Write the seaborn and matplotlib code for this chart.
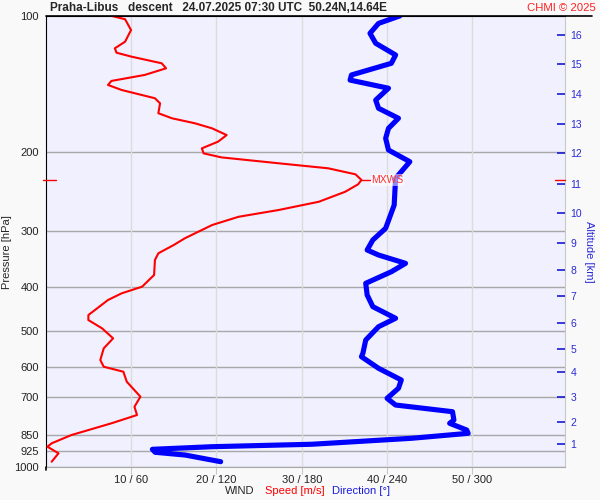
import numpy as np
import pandas as pd
import matplotlib
matplotlib.use("Agg")
import matplotlib.pyplot as plt
from matplotlib.lines import Line2D
from matplotlib.ticker import NullLocator
import seaborn as sns

# wind speed profile [hPa] / [m/s]
speed_p = [100, 101.7, 107.5, 114.1, 118.0, 120.7, 123.2, 127.4, 130.7, 135.2,
           139.4, 142.3, 146.0, 152.3, 156.3, 164.4, 168.7, 173.1, 177.6, 183.8,
           190.1, 196.7, 201.8, 206.0, 212.3, 217.8, 224.6, 231.2, 236.4, 245.5,
           258.4, 269.5, 279.0, 291.0, 311.4, 322.3, 336.2, 347.9, 375.6, 398.7,
           412.5, 426.8, 460.9, 472.8, 493.2, 519.1, 546.3, 580.0, 600.1, 615.6,
           647.9, 699.4, 736.2, 768.0, 801.2, 850.8, 887.4, 902.9, 933.9, 974.8]
speed = [7.7, 9.3, 10.0, 9.3, 8.1, 8.3, 10.1, 13.6, 14.1, 11.6,
         7.7, 7.3, 8.9, 12.8, 13.4, 13.2, 14.8, 17.5, 19.5, 21.2,
         20.2, 18.3, 18.5, 20.6, 27.3, 33.1, 36.3, 37.0, 36.6, 35.1,
         32.0, 27.3, 22.6, 19.5, 16.3, 15.0, 13.2, 12.8, 12.7, 11.3,
         8.9, 7.3, 5.0, 5.0, 6.6, 7.9, 6.8, 6.4, 6.8, 9.1,
         9.5, 11.1, 10.4, 10.7, 7.7, 3.0, 0.7, 0.2, 1.5, 0.7]

# wind direction profile [hPa] / [deg]
dir_p = [100, 103.9, 109.3, 115.0, 122.1, 127.4, 135.2, 138.8, 144.7, 153.7,
         160.3, 168.7, 177.6, 186.9, 198.4, 210.6, 229.2, 262.8, 295.9, 314.1,
         330.6, 339.2, 353.9, 369.4, 391.9, 416.0, 441.6, 468.6, 489.2, 523.6,
         560.5, 570.2, 604.9, 642.2, 670.0, 705.2, 729.8, 755.1, 787.8, 801.2,
         829.2, 843.3, 865.0, 891.7, 902.9, 915.0, 929.1, 942.1, 974.8]
direction = [249, 234, 228, 232, 246, 243, 215, 214, 241, 232,
             234, 248, 241, 239, 241, 256, 246, 245, 239, 230,
             226, 234, 253, 243, 225, 226, 230, 246, 234, 225,
             223, 222, 234, 250, 248, 240, 246, 286, 287, 284,
             296, 297, 257, 187, 117, 75, 77, 98, 123]

p_ticks = [100, 200, 300, 400, 500, 600, 700, 850, 925, 1000]
spd_ticks = [10, 20, 30, 40, 50]
spd_labels = ["10 / 60", "20 / 120", "30 / 180", "40 / 240", "50 / 300"]

# altitude [km] positions on the pressure axis
alt_km = list(range(1, 17))
alt_p = [891.7, 794.7, 699.4, 617.6, 549.0, 479.3, 418.2, 366.2,
         318.5, 273.6, 236.0, 201.7, 174.0, 149.1, 127.8, 110.1]

XMAX = 60.85
BLUE = "#0000ff"
TXTBLUE = "#2a2ad8"

sns.set_style("white")
plt.rcParams['font.family'] = ['Liberation Sans', 'DejaVu Sans']

fig = plt.figure(figsize=(6, 5), dpi=100, facecolor="#f9f9f9")
ax = fig.add_axes([45.7 / 600, 1 - 466.7 / 500, 519.3 / 600, 450.8 / 500])
ax.set_facecolor("#f0f0fe")

df_s = pd.DataFrame({"p": speed_p, "speed": speed})
df_d = pd.DataFrame({"p": dir_p, "dir": direction})

sns.lineplot(data=df_s, x="speed", y="p", sort=False, estimator=None,
             color="red", linewidth=1.5, ax=ax, zorder=3)
ax.set_yscale("log")
ax.set_ylim(1000, 100)
ax.set_xlim(0, XMAX)
ax.yaxis.set_minor_locator(NullLocator())
ax.set_yticks(p_ticks)
ax.set_yticklabels([str(t) for t in p_ticks], fontsize=8, color="#222222")
ax.set_xticks(spd_ticks)
ax.set_xticklabels(spd_labels, fontsize=8, color="#222222")
ax.tick_params(axis="y", length=0, pad=5)
ax.tick_params(axis="x", length=5, color="#c8c8c8", pad=1)
ax.set_xlabel("")
ax.set_ylabel("")
for t in p_ticks[1:]:
    ax.axhline(t, color="#a8a8a8", lw=1, zorder=1)
for t in spd_ticks:
    ax.axvline(t, color="#dcdcdc", lw=1, zorder=1)
ax.spines["left"].set_color("black")
ax.spines["top"].set_color("black")
ax.spines["bottom"].set_color("#a8a8a8")
ax.spines["right"].set_color("#c8c8c8")

# direction on its own x scale (0-360 over same width)
axd = ax.twiny()
sns.lineplot(data=df_d, x="dir", y="p", sort=False, estimator=None,
             color=BLUE, linewidth=3.7, ax=axd, zorder=2)
axd.lines[0].set_solid_capstyle("round")
axd.set_xlim(0, XMAX * 6)
axd.set_xlabel("")
axd.set_ylabel("")
axd.tick_params(top=False, labeltop=False)
for s in axd.spines.values():
    s.set_visible(False)

# altitude axis
axa = ax.twinx()
axa.set_yscale("log")
axa.set_ylim(1000, 100)
axa.yaxis.set_minor_locator(NullLocator())
axa.set_yticks(alt_p)
axa.set_yticklabels([str(k) for k in alt_km], fontsize=7.5, color=TXTBLUE)
axa.tick_params(axis="y", direction="in", length=6, width=1.2,
                color="#1a1ad0", pad=4)
for s in axa.spines.values():
    s.set_visible(False)

# max wind marker
imax = int(np.argmax(speed))
mx_s, mx_p = speed[imax], speed_p[imax]
ax.plot([mx_s, mx_s + 1.0], [mx_p, mx_p], color="red", lw=1, zorder=3)
axd.text((mx_s + 1.15) * 6, mx_p, "MXWS", color="#ff3030", fontsize=7.5,
         va="center", ha="left", zorder=5,
         bbox=dict(facecolor="white", edgecolor="none", alpha=0.55, pad=0.5))
tr = ax.get_yaxis_transform()
ax.plot([-0.005, 0.019], [mx_p, mx_p], color="red", lw=1, transform=tr,
        clip_on=False, zorder=5)
ax.plot([0.98, 1.0], [mx_p, mx_p], color="red", lw=1, transform=tr,
        clip_on=False, zorder=5)

# frame extensions
fig.add_artist(Line2D([45.7 / 600, 592 / 600], [1 - 15.9 / 500] * 2,
                      color="black", lw=1.2))
fig.add_artist(Line2D([45.7 / 600] * 2, [1 - 466.7 / 500, 1 - 470 / 500],
                      color="black", lw=1.2))

# texts
fig.text(50 / 600, 1 - 8 / 500,
         "Praha-Libus   descent   24.07.2025 07:30 UTC  50.24N,14.64E",
         fontsize=8.5, weight="bold", ha="left", va="center")
fig.text(596 / 600, 1 - 8 / 500, "CHMI \u00a9 2025", color="#ff2020",
         fontsize=8.2, ha="right", va="center")
fig.text(7.5 / 600, 1 - 252 / 500, "Pressure [hPa]", rotation=90,
         fontsize=8, ha="center", va="center")
fig.text(589 / 600, 1 - 252 / 500, "Altitude [km]", rotation=-90,
         fontsize=8, ha="center", va="center", color=TXTBLUE)
fig.text(225 / 600, 1 - 491 / 500, "WIND", fontsize=8, ha="left", va="center")
fig.text(265 / 600, 1 - 491 / 500, "Speed [m/s]", fontsize=8, ha="left",
         va="center", color="red")
fig.text(332 / 600, 1 - 491 / 500, "Direction [\u00b0]", fontsize=8,
         ha="left", va="center", color="#1a1ae0")

fig.savefig("out.png", dpi=100, facecolor=fig.get_facecolor())
